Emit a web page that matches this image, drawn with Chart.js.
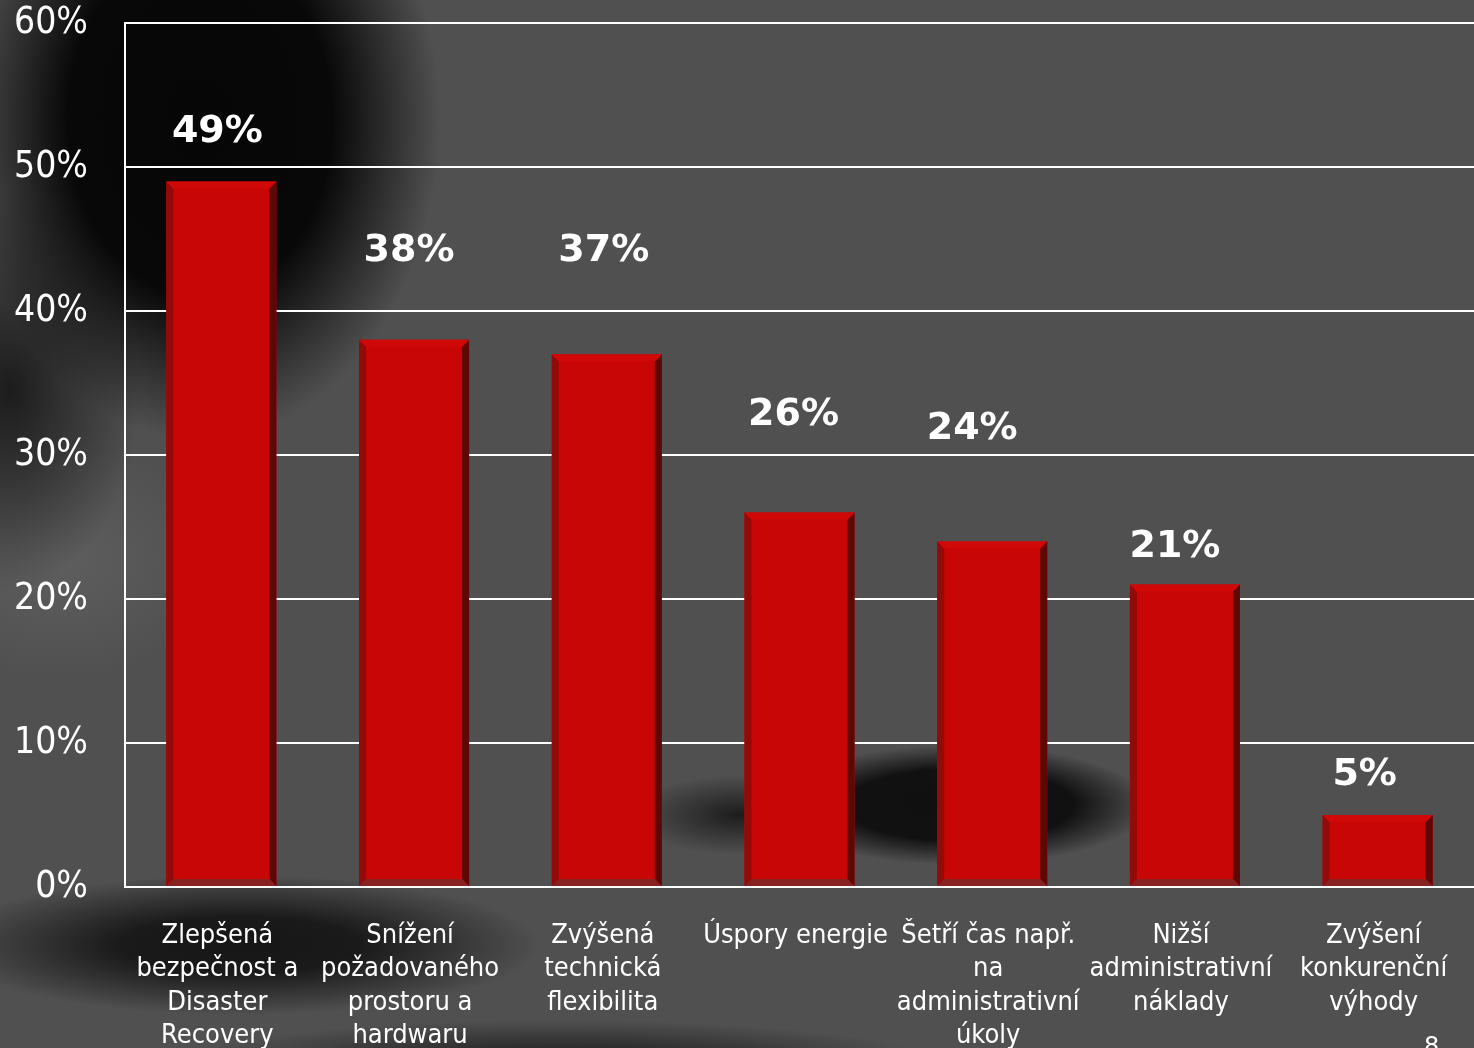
<!DOCTYPE html>
<html>
<head>
<meta charset="utf-8">
<script src="https://cdn.jsdelivr.net/npm/chart.js@4.4.1/dist/chart.umd.min.js"></script>
<style>
  html, body {
    margin: 0;
    padding: 0;
    width: 1474px;
    height: 1048px;
    overflow: hidden;
  }
  body {
    position: relative;
    background:
      radial-gradient(ellipse 240px 320px at 200px 120px, #060606 0%, #080808 55%, rgba(8,8,8,0) 100%),
      radial-gradient(ellipse 130px 200px at 10px 390px, #1c1c1c 0%, rgba(28,28,28,0) 100%),
      radial-gradient(ellipse 190px 60px at 960px 805px, #101010 0%, #111 60%, rgba(17,17,17,0) 100%),
      radial-gradient(ellipse 110px 40px at 740px 815px, #1c1c1c 0%, rgba(28,28,28,0) 100%),
      radial-gradient(ellipse 300px 70px at 240px 945px, #161616 0%, #1a1a1a 40%, rgba(26,26,26,0) 100%),
      radial-gradient(ellipse 380px 45px at 560px 1065px, #151515 0%, rgba(21,21,21,0) 100%),
      radial-gradient(ellipse 160px 120px at 60px 560px, #5e5e5e 0%, rgba(94,94,94,0) 100%),
      #505050;
  }
  #wrap {
    position: absolute;
    left: 0;
    top: 0;
    width: 1474px;
    height: 1048px;
  }
  #pageNo {
    position: absolute;
    left: 1424px;
    top: 1032px;
    color: #fff;
    font: 24px "DejaVu Sans", sans-serif;
  }
</style>
</head>
<body>
<div id="wrap"><canvas id="benefitsChart"></canvas></div>
<div id="pageNo">8</div>
<script>
// Chart Data
const categories = [
  ["Zlepšená", "bezpečnost a", "Disaster", "Recovery"],
  ["Snížení", "požadovaného", "prostoru a", "hardwaru"],
  ["Zvýšená", "technická", "flexibilita"],
  ["Úspory energie"],
  ["Šetří čas např.", "na", "administrativní", "úkoly"],
  ["Nižší", "administrativní", "náklady"],
  ["Zvýšení", "konkurenční", "výhody"],
];
const shares = [49, 38, 37, 26, 24, 21, 5];
const yTicks = [0, 10, 20, 30, 40, 50, 60];

// where the value labels sit (in % units) and a small x nudge, as in the slide
const labelLevels = [52.6, 44.4, 44.4, 33.0, 32.0, 23.8, 8.0];
const labelNudge = [-4, -5, -3, -6, -20, -10, -13];

const LABEL_FONT = '"DejaVu Sans Condensed", "DejaVu Sans", sans-serif';

// Bevel for the 3D-ish bars
const bevelPlugin = {
  id: "bevel",
  afterDatasetsDraw(chart) {
    const { ctx } = chart;
    const b = 7;
    chart.getDatasetMeta(0).data.forEach((bar) => {
      const left = bar.x - bar.width / 2;
      const right = bar.x + bar.width / 2;
      const top = bar.y;
      const bottom = bar.base;
      ctx.save();
      // left face
      ctx.fillStyle = "#920a0a";
      ctx.beginPath();
      ctx.moveTo(left, top);
      ctx.lineTo(left + b, top + b);
      ctx.lineTo(left + b, bottom - b);
      ctx.lineTo(left, bottom);
      ctx.fill();
      // right face
      ctx.fillStyle = "#5e0707";
      ctx.beginPath();
      ctx.moveTo(right, top);
      ctx.lineTo(right - b, top + b);
      ctx.lineTo(right - b, bottom - b);
      ctx.lineTo(right, bottom);
      ctx.fill();
      // top face
      ctx.fillStyle = "#d00808";
      ctx.beginPath();
      ctx.moveTo(left, top);
      ctx.lineTo(right, top);
      ctx.lineTo(right - b, top + b);
      ctx.lineTo(left + b, top + b);
      ctx.fill();
      // bottom face
      ctx.fillStyle = "#862222";
      ctx.beginPath();
      ctx.moveTo(left, bottom);
      ctx.lineTo(right, bottom);
      ctx.lineTo(right - b, bottom - b);
      ctx.lineTo(left + b, bottom - b);
      ctx.fill();
      ctx.restore();
    });
  },
};

// Value labels above the bars
const valueLabelPlugin = {
  id: "valueLabels",
  afterDraw(chart) {
    const { ctx } = chart;
    const yScale = chart.scales.y;
    ctx.save();
    ctx.fillStyle = "#ffffff";
    ctx.font = 'bold 38px "DejaVu Sans", sans-serif';
    ctx.textAlign = "center";
    ctx.textBaseline = "middle";
    chart.getDatasetMeta(0).data.forEach((bar, i) => {
      const y = yScale.getPixelForValue(labelLevels[i]) + 3;
      ctx.fillText(shares[i] + "%", bar.x + labelNudge[i], y);
    });
    ctx.restore();
  },
};

const ctx = document.getElementById("benefitsChart").getContext("2d");
const benefitsChart = new Chart(ctx, {
  type: "bar",
  data: {
    labels: categories,
    datasets: [
      {
        data: shares,
        backgroundColor: "#c80606",
        borderWidth: 0,
        categoryPercentage: 1,
        barPercentage: 0.571,
      },
    ],
  },
  options: {
    responsive: true,
    maintainAspectRatio: false,
    animation: false,
    layout: { autoPadding: false, padding: { top: 23, right: 0, left: 0, bottom: 0 } },
    plugins: {
      legend: { display: false },
      tooltip: { enabled: false },
    },
    scales: {
      x: {
        grid: { display: false },
        border: { display: true, color: "#ffffff", width: 2 },
        ticks: {
          color: "#ffffff",
          maxRotation: 0,
          autoSkip: false,
          padding: 24,
          labelOffset: -4,
          font: { family: LABEL_FONT, size: 27, lineHeight: 1.24 },
        },
        afterFit(scale) {
          scale.height = 161;
          scale.paddingLeft = 0;
          scale.paddingRight = 0;
        },
      },
      y: {
        min: 0,
        max: 60,
        afterBuildTicks(scale) {
          scale.ticks = yTicks.map((v) => ({ value: v }));
        },
        grid: { color: "#ffffff", lineWidth: 2, drawTicks: false },
        border: { display: true, color: "#ffffff", width: 2 },
        ticks: {
          color: "#ffffff",
          padding: 37,
          font: { family: LABEL_FONT, size: 37 },
          callback: (v) => v + "%",
        },
        afterFit(scale) {
          scale.width = 125;
          scale.paddingTop = 0;
          scale.paddingBottom = 0;
        },
      },
    },
  },
  plugins: [bevelPlugin, valueLabelPlugin],
});
</script>
</body>
</html>
